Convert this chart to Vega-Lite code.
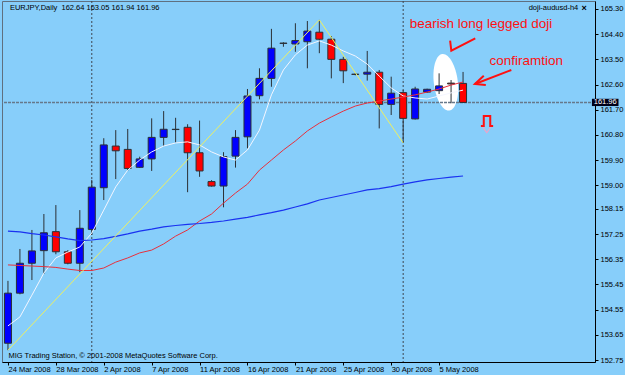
{
 "$schema": "https://vega.github.io/schema/vega-lite/v6.json",
 "width": 593, "height": 361,
 "autosize": "none",
 "padding": {"left": 2, "top": 1, "right": 30, "bottom": 13},
 "background": "#87cefa",
 "config": {"view": {"stroke": "#5f7080", "strokeWidth": 1}, "font": "Liberation Sans"},
 "resolve": {"axis": {"x": "independent", "y": "independent"}},
 "datasets": {
  "candles": [
   {"i":0,"open":153.35,"high":155.58,"low":153.10,"close":155.14,"white":153.97,"red":156.15,"blue":157.36},
   {"i":1,"open":155.14,"high":156.72,"low":155.10,"close":156.21,"white":154.29,"red":156.13,"blue":157.33},
   {"i":2,"open":156.21,"high":157.40,"low":155.61,"close":156.65,"white":155.07,"red":156.11,"blue":157.27},
   {"i":3,"open":156.66,"high":157.97,"low":155.83,"close":157.30,"white":155.86,"red":156.09,"blue":157.22},
   {"i":4,"open":157.34,"high":158.29,"low":156.53,"close":156.62,"white":156.40,"red":156.06,"blue":157.15},
   {"i":5,"open":156.62,"high":156.68,"low":156.17,"close":156.21,"white":156.61,"red":156.00,"blue":157.08},
   {"i":6,"open":156.21,"high":158.11,"low":155.89,"close":157.46,"white":156.79,"red":155.95,"blue":157.02},
   {"i":7,"open":157.42,"high":159.19,"low":157.22,"close":158.93,"white":157.29,"red":155.95,"blue":157.04},
   {"i":8,"open":158.91,"high":160.68,"low":158.47,"close":160.44,"white":158.11,"red":156.04,"blue":157.09},
   {"i":9,"open":160.40,"high":160.97,"low":159.22,"close":160.23,"white":158.94,"red":156.25,"blue":157.17},
   {"i":10,"open":160.28,"high":161.01,"low":159.52,"close":159.60,"white":159.54,"red":156.40,"blue":157.26},
   {"i":11,"open":159.64,"high":160.02,"low":159.62,"close":159.94,"white":159.90,"red":156.58,"blue":157.36},
   {"i":12,"open":159.94,"high":161.39,"low":159.51,"close":160.71,"white":160.19,"red":156.68,"blue":157.43},
   {"i":13,"open":160.71,"high":161.65,"low":160.41,"close":161.00,"white":160.40,"red":156.90,"blue":157.51},
   {"i":14,"open":160.99,"high":161.41,"low":160.53,"close":161.00,"white":160.51,"red":157.18,"blue":157.56},
   {"i":15,"open":161.07,"high":161.18,"low":158.75,"close":160.16,"white":160.55,"red":157.40,"blue":157.60},
   {"i":16,"open":160.16,"high":161.31,"low":159.30,"close":159.51,"white":160.44,"red":157.72,"blue":157.63},
   {"i":17,"open":159.13,"high":159.18,"low":158.95,"close":158.97,"white":160.19,"red":157.97,"blue":157.67},
   {"i":18,"open":158.97,"high":160.18,"low":158.21,"close":160.02,"white":160.01,"red":158.36,"blue":157.72},
   {"i":19,"open":160.04,"high":160.97,"low":159.63,"close":160.71,"white":159.90,"red":158.72,"blue":157.79},
   {"i":20,"open":160.73,"high":162.44,"low":160.32,"close":162.19,"white":160.26,"red":159.04,"blue":157.85},
   {"i":21,"open":162.20,"high":163.18,"low":162.07,"close":162.82,"white":160.97,"red":159.54,"blue":157.94},
   {"i":22,"open":162.82,"high":164.59,"low":162.52,"close":163.90,"white":162.23,"red":159.90,"blue":158.02},
   {"i":23,"open":164.07,"high":164.11,"low":163.95,"close":164.08,"white":163.12,"red":160.26,"blue":158.11},
   {"i":24,"open":164.05,"high":164.79,"low":163.77,"close":164.17,"white":163.66,"red":160.58,"blue":158.22},
   {"i":25,"open":164.13,"high":164.87,"low":163.18,"close":164.51,"white":164.01,"red":160.94,"blue":158.33},
   {"i":26,"open":164.47,"high":164.91,"low":163.72,"close":164.22,"white":164.16,"red":161.22,"blue":158.47},
   {"i":27,"open":164.22,"high":164.33,"low":162.82,"close":163.50,"white":164.01,"red":161.44,"blue":158.56},
   {"i":28,"open":163.50,"high":163.59,"low":162.65,"close":163.09,"white":163.80,"red":161.65,"blue":158.65},
   {"i":29,"open":162.97,"high":163.00,"low":162.93,"close":162.96,"white":163.62,"red":161.83,"blue":158.74},
   {"i":30,"open":162.97,"high":163.80,"low":162.74,"close":163.04,"white":163.33,"red":161.94,"blue":158.83},
   {"i":31,"open":163.04,"high":163.12,"low":161.03,"close":161.89,"white":162.90,"red":162.01,"blue":158.88},
   {"i":32,"open":161.89,"high":162.88,"low":161.51,"close":162.29,"white":162.48,"red":162.08,"blue":158.95},
   {"i":33,"open":162.31,"high":162.40,"low":160.51,"close":161.39,"white":162.19,"red":162.15,"blue":159.04},
   {"i":34,"open":161.37,"high":162.52,"low":161.35,"close":162.44,"white":162.12,"red":162.23,"blue":159.12},
   {"i":35,"open":162.33,"high":162.45,"low":162.30,"close":162.43,"white":162.08,"red":162.33,"blue":159.19},
   {"i":36,"open":162.38,"high":163.00,"low":162.26,"close":162.55,"white":162.19,"red":162.44,"blue":159.24},
   {"i":37,"open":162.65,"high":162.76,"low":161.93,"close":162.62,"white":162.30,"red":162.58,"blue":159.29},
   {"i":38,"open":162.64,"high":163.05,"low":161.94,"close":161.96,"white":162.40,"red":162.69,"blue":159.33}
  ],
  "zigzag": [{"i":0,"p":153.10},{"i":26,"p":164.91},{"i":33,"p":160.51}],
  "month_start": [{"i":7,"date":"1 Apr 2008"},{"i":33,"date":"1 May 2008"}],
  "pen": [
   {"stroke":"check","k":0,"i":36.92,"p":164.17},
   {"stroke":"check","k":1,"i":37.02,"p":163.81},
   {"stroke":"check","k":2,"i":39.02,"p":164.25},
   {"stroke":"arrow","k":0,"i":42.03,"p":163.12},
   {"stroke":"arrow","k":1,"i":38.99,"p":162.62},
   {"stroke":"head","k":0,"i":39.73,"p":162.91},
   {"stroke":"head","k":1,"i":38.99,"p":162.62},
   {"stroke":"head","k":2,"i":39.90,"p":162.58},
   {"stroke":"sell","k":0,"i":39.49,"p":161.12},
   {"stroke":"sell","k":1,"i":39.73,"p":161.12},
   {"stroke":"sell","k":2,"i":39.73,"p":161.47},
   {"stroke":"sell","k":3,"i":40.27,"p":161.47},
   {"stroke":"sell","k":4,"i":40.27,"p":161.12},
   {"stroke":"sell","k":5,"i":40.51,"p":161.12}
  ],
  "sellshadow": [
   {"k":0,"i":39.65,"p":161.08},
   {"k":1,"i":39.98,"p":160.88},
   {"k":2,"i":40.31,"p":161.08}
  ]
 },
 "layer": [
  {"data": {"values": [{}]},
   "mark": {"type": "point", "shape": "M0,-1A0.42,1 0 1,1 0,1A0.42,1 0 1,1 0,-1Z", "filled": true, "color": "#ffffff", "opacity": 1, "size": 3249, "angle": -7, "strokeWidth": 0},
   "encoding": {"x": {"datum": 36.56, "type": "quantitative", "scale": {"domain": [-0.08, 48.6], "nice": false, "zero": false}, "axis": null},
                "y": {"datum": 162.68, "type": "quantitative", "scale": {"domain": [152.679, 165.586], "nice": false, "zero": false}, "axis": null}}},
  {"data": {"name": "month_start"},
   "mark": {"type": "rule", "color": "#3c4650", "strokeDash": [2, 2], "strokeWidth": 1},
   "encoding": {"x": {"field": "i", "type": "quantitative", "scale": {"domain": [-0.08, 48.6], "nice": false, "zero": false}, "axis": null}}},
  {"data": {"values": [{}]},
   "mark": {"type": "rule", "color": "#66788a", "strokeWidth": 1.5, "strokeDash": [3, 1]},
   "encoding": {"y": {"datum": 161.96, "type": "quantitative", "scale": {"domain": [152.679, 165.586], "nice": false, "zero": false}, "axis": null}}},
  {"data": {"name": "candles"},
   "mark": {"type": "rule", "color": "#2b3035", "strokeWidth": 1, "clip": true},
   "encoding": {"x": {"field": "i", "type": "quantitative", "scale": {"domain": [-0.08, 48.6], "nice": false, "zero": false}, "axis": null},
                "y": {"field": "low", "type": "quantitative", "scale": {"domain": [152.679, 165.586], "nice": false, "zero": false}, "axis": null},
                "y2": {"field": "high"}}},
  {"data": {"name": "candles"},
   "mark": {"type": "bar", "width": 7, "stroke": "#2b3035", "strokeWidth": 1, "clip": true},
   "encoding": {
    "x": {"field": "i", "type": "quantitative", "scale": {"domain": [-0.08, 48.6], "nice": false, "zero": false},
          "axis": {"values": [0, 4, 8, 12, 16, 20, 24, 28, 32, 36], "labelExpr": "['24 Mar 2008','28 Mar 2008','2 Apr 2008','7 Apr 2008','11 Apr 2008','16 Apr 2008','21 Apr 2008','25 Apr 2008','30 Apr 2008','5 May 2008'][round(datum.value/4)]",
                   "title": null, "grid": false, "domainColor": "#000000", "tickColor": "#000000", "tickSize": 3, "labelAlign": "left", "labelBaseline": "top", "labelPadding": 0, "labelFontSize": 7.5, "labelFont": "Liberation Sans", "labelColor": "#000000", "labelOverlap": false, "labelFlush": false, "labelBound": false}},
    "y": {"field": "open", "type": "quantitative", "scale": {"domain": [152.679, 165.586], "nice": false, "zero": false},
          "axis": {"orient": "right", "values": [165.30, 164.40, 163.50, 162.60, 161.70, 160.80, 159.90, 159.00, 158.15, 157.25, 156.35, 155.45, 154.55, 153.65, 152.75], "format": ".2f",
                   "title": null, "grid": false, "domainColor": "#000000", "tickColor": "#000000", "tickSize": 3, "labelPadding": 2, "labelFontSize": 7.5, "labelFont": "Liberation Sans", "labelColor": "#000000", "labelOverlap": false, "labelBound": false}},
    "y2": {"field": "close"},
    "fill": {"condition": {"test": "datum.close >= datum.open", "value": "#0000ff"}, "value": "#ff0000"}
   }},
  {"data": {"name": "candles"},
   "mark": {"type": "line", "color": "#f4f6ff", "strokeWidth": 1, "clip": true},
   "encoding": {"x": {"field": "i", "type": "quantitative", "axis": null}, "y": {"field": "white", "type": "quantitative", "axis": null}}},
  {"data": {"name": "candles"},
   "mark": {"type": "line", "color": "#e8303c", "strokeWidth": 1, "clip": true},
   "encoding": {"x": {"field": "i", "type": "quantitative", "axis": null}, "y": {"field": "red", "type": "quantitative", "axis": null}}},
  {"data": {"name": "candles"},
   "mark": {"type": "line", "color": "#1a32f0", "strokeWidth": 1.2, "clip": true},
   "encoding": {"x": {"field": "i", "type": "quantitative", "axis": null}, "y": {"field": "blue", "type": "quantitative", "axis": null}}},
  {"data": {"name": "zigzag"},
   "mark": {"type": "line", "color": "#eef060", "strokeWidth": 1, "clip": true},
   "encoding": {"x": {"field": "i", "type": "quantitative", "axis": null}, "y": {"field": "p", "type": "quantitative", "axis": null}}},
  {"data": {"name": "sellshadow"},
   "mark": {"type": "line", "color": "#e8a6cc", "strokeWidth": 1.2},
   "encoding": {"x": {"field": "i", "type": "quantitative", "axis": null}, "y": {"field": "p", "type": "quantitative", "axis": null}, "order": {"field": "k"}}},
  {"data": {"name": "pen"},
   "mark": {"type": "line", "color": "#ff1010", "strokeWidth": 2},
   "encoding": {"x": {"field": "i", "type": "quantitative", "axis": null}, "y": {"field": "p", "type": "quantitative", "axis": null}, "detail": {"field": "stroke"}, "order": {"field": "k"}}},
  {"data": {"values": [{}]},
   "mark": {"type": "text", "text": "EURJPY,Daily\u00a0\u00a0162.64 163.05 161.94 161.96", "align": "left", "baseline": "middle", "fontSize": 7.5, "font": "Liberation Sans", "color": "#000000"},
   "encoding": {"x": {"datum": 0.166, "type": "quantitative", "axis": null}, "y": {"datum": 165.336, "type": "quantitative", "axis": null}}},
  {"data": {"values": [{}]},
   "mark": {"type": "text", "text": "doji-audusd-h4", "align": "right", "baseline": "middle", "fontSize": 7.5, "font": "Liberation Sans", "color": "#000000"},
   "encoding": {"x": {"datum": 47.62, "type": "quantitative", "axis": null}, "y": {"datum": 165.336, "type": "quantitative", "axis": null}}},
  {"data": {"values": [{}]},
   "mark": {"type": "text", "text": "×", "align": "center", "baseline": "middle", "fontSize": 9, "fontWeight": "bold", "font": "Liberation Sans", "color": "#000000"},
   "encoding": {"x": {"datum": 48.11, "type": "quantitative", "axis": null}, "y": {"datum": 165.336, "type": "quantitative", "axis": null}}},
  {"data": {"values": [{}]},
   "mark": {"type": "text", "text": "MIG Trading Station, © 2001-2008 MetaQuotes Software Corp.", "align": "left", "baseline": "middle", "fontSize": 7.5, "font": "Liberation Sans", "color": "#000000"},
   "encoding": {"x": {"datum": 0.043, "type": "quantitative", "axis": null}, "y": {"datum": 152.894, "type": "quantitative", "axis": null}}},
  {"data": {"values": [{}]},
   "mark": {"type": "text", "text": "bearish long legged doji", "align": "left", "baseline": "alphabetic", "fontSize": 13.5, "font": "Liberation Sans", "color": "#ff1010"},
   "encoding": {"x": {"datum": 33.55, "type": "quantitative", "axis": null}, "y": {"datum": 164.61, "type": "quantitative", "axis": null}}},
  {"data": {"values": [{}]},
   "mark": {"type": "text", "text": "confiramtion", "align": "left", "baseline": "alphabetic", "fontSize": 13.5, "font": "Liberation Sans", "color": "#ff1010"},
   "encoding": {"x": {"datum": 40.20, "type": "quantitative", "axis": null}, "y": {"datum": 163.298, "type": "quantitative", "axis": null}}},
  {"data": {"values": [{}]},
   "mark": {"type": "rect", "color": "#000018"},
   "encoding": {"x": {"datum": 48.76, "type": "quantitative", "axis": null}, "x2": {"datum": 50.98},
                "y": {"datum": 162.09, "type": "quantitative", "axis": null}, "y2": {"datum": 161.83}}},
  {"data": {"values": [{}]},
   "mark": {"type": "text", "text": "161.96", "align": "center", "baseline": "middle", "fontSize": 7.5, "font": "Liberation Sans", "color": "#ffffff"},
   "encoding": {"x": {"datum": 49.87, "type": "quantitative", "axis": null}, "y": {"datum": 161.96, "type": "quantitative", "axis": null}}}
 ]
}
